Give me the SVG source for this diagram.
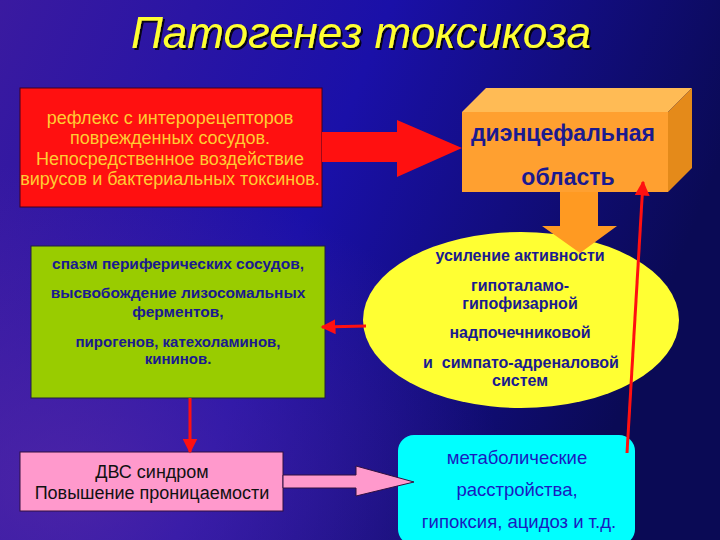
<svg xmlns="http://www.w3.org/2000/svg" width="720" height="540" viewBox="0 0 720 540">
<defs>
<linearGradient id="bg" x1="0" y1="0" x2="1" y2="0.3">
<stop offset="0" stop-color="#3a1aa0"/>
<stop offset="0.5" stop-color="#1a10a8"/>
<stop offset="1" stop-color="#0a0a55"/>
</linearGradient>
<radialGradient id="bg2" cx="0.1" cy="0.9" r="0.6">
<stop offset="0" stop-color="#5a2aa8" stop-opacity="0.7"/>
<stop offset="1" stop-color="#5a2aa8" stop-opacity="0"/>
</radialGradient>
<filter id="sh" x="-5%" y="-20%" width="110%" height="140%">
<feDropShadow dx="2" dy="2" stdDeviation="0.6" flood-color="#000" flood-opacity="0.85"/>
</filter>
<marker id="ah" viewBox="0 0 10 10" refX="9" refY="5" markerWidth="5" markerHeight="5" orient="auto">
<path d="M0,0 L10,5 L0,10 z" fill="#ff1010"/>
</marker>
<style>
.t{font-family:"Liberation Sans",Arial,sans-serif;text-anchor:middle}
.red{font-size:18px;fill:#ffcc33}
.blue{font-weight:bold;fill:#1a1a90}
.ln{stroke:#ff1010;stroke-width:3;fill:none}
</style>
</defs>
<rect width="720" height="540" fill="url(#bg)"/>
<rect width="720" height="540" fill="url(#bg2)"/>
<g id="title">
<text class="t" x="361" y="48" font-size="44" font-style="italic" fill="#ffff33" filter="url(#sh)">Патогенез токсикоза</text>
</g>
<g id="reflex">
<rect x="20" y="88" width="302" height="119" fill="#ff1010" stroke="#400020" stroke-width="1"/>
<text class="t red" x="170" y="124">рефлекс с интерорецепторов</text>
<text class="t red" x="170" y="144">поврежденных сосудов.</text>
<text class="t red" x="170" y="165">Непосредственное воздействие</text>
<text class="t red" x="170" y="185">вирусов и бактериальных токсинов.</text>
</g>
<g id="diencephalon">
<path d="M462,112 L486,88 L692,88 L668,112 z" fill="#ffbb55"/>
<path d="M668,112 L692,88 L692,168 L668,192 z" fill="#e48a1a"/>
<rect x="462" y="112" width="206" height="80" fill="#ffa030"/>
<text class="t blue" x="563" y="141" font-size="23">диэнцефальная</text>
<text class="t blue" x="568" y="185" font-size="23">область</text>
</g>
<g id="activity">
<ellipse cx="521" cy="320" rx="158" ry="88" fill="#ffff33"/>
<text class="t blue" x="520" y="261" font-size="16">усиление активности</text>
<text class="t blue" x="520" y="291" font-size="16">гипоталамо-</text>
<text class="t blue" x="520" y="309" font-size="16">гипофизарной</text>
<text class="t blue" x="520" y="338" font-size="16">надпочечниковой</text>
<text class="t blue" x="521" y="368" font-size="16" xml:space="preserve">и  симпато-адреналовой</text>
<text class="t blue" x="520" y="386" font-size="16">систем</text>
</g>
<g id="spasm">
<rect x="31" y="246" width="294" height="152" fill="#99cc00" stroke="#202040" stroke-width="1"/>
<text class="t blue" x="178" y="269" font-size="15.5">спазм периферических сосудов,</text>
<text class="t blue" x="178" y="298" font-size="15.5">высвобождение лизосомальных</text>
<text class="t blue" x="178" y="317" font-size="15.5">ферментов,</text>
<text class="t blue" x="178" y="347" font-size="15">пирогенов, катехоламинов,</text>
<text class="t blue" x="178" y="364" font-size="15">кининов.</text>
</g>
<g id="dvs">
<rect x="20" y="452" width="263" height="59" fill="#ff99cc" stroke="#301040" stroke-width="1"/>
<text class="t" x="152" y="478" font-size="18" fill="#111">ДВС синдром</text>
<text class="t" x="152" y="499" font-size="18" fill="#111">Повышение проницаемости</text>
</g>
<g id="metabolic">
<rect x="398" y="435" width="237" height="110" rx="16" fill="#00ffff"/>
<text class="t" x="517" y="464" font-size="18.5" fill="#1a1ac0">метаболические</text>
<text class="t" x="517" y="496" font-size="18.5" fill="#1a1ac0">расстройства,</text>
<text class="t" x="519" y="528" font-size="18.5" fill="#1a1ac0">гипоксия, ацидоз и т.д.</text>
</g>
<g id="connectors">
<path d="M322,132 L397,132 L397,120 L462,148 L397,177 L397,162 L322,162 z" fill="#ff1010"/>
<path d="M560,192 L598,192 L598,226 L617,226 L580,253 L542,226 L560,226 z" fill="#ff9a22"/>
<line class="ln" x1="366" y1="326" x2="322" y2="327" marker-end="url(#ah)"/>
<line class="ln" x1="190" y1="398" x2="190" y2="452" marker-end="url(#ah)"/>
<path d="M283,475 L356,475 L356,466 L414,482 L356,496 L356,488 L283,488 z" fill="#ff99cc" stroke="#301040" stroke-width="1"/>
<line class="ln" x1="627" y1="453" x2="643" y2="182" marker-end="url(#ah)"/>
</g>
</svg>
